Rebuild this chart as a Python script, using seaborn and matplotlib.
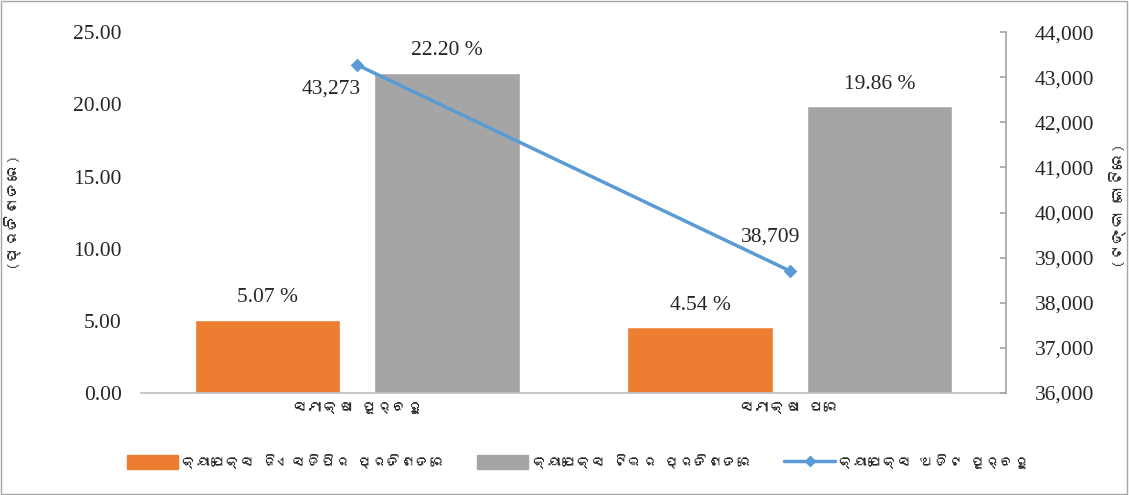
import numpy as np
import pandas as pd
import matplotlib
matplotlib.use("Agg")
import matplotlib.pyplot as plt
import seaborn as sns
from matplotlib import font_manager, ft2font
from matplotlib.lines import Line2D
from matplotlib.patches import Patch, Rectangle

# ---------------- data ----------------
categories = ["ସମୀକ୍ଷା ପୂର୍ବରୁ", "ସମୀକ୍ଷା ପରେ"]
gsdp_pct = [5.07, 4.54]          # କ୍ୟାପେକ୍ସ ଜିଏସଡିପିର ପ୍ରତିଶତରେ
te_pct = [22.20, 19.86]          # କ୍ୟାପେକ୍ସ ଟିଇର ପ୍ରତିଶତରେ
capex_crore = [43273, 38709]     # କ୍ୟାପେକ୍ସ ଅଡିଟ ପୂର୍ବରୁ

series_names = ["କ୍ୟାପେକ୍ସ ଜିଏସଡିପିର ପ୍ରତିଶତରେ", "କ୍ୟାପେକ୍ସ ଟିଇର ପ୍ରତିଶତରେ",
                "କ୍ୟାପେକ୍ସ ଅଡିଟ ପୂର୍ବରୁ"]
left_label = "(ପ୍ରତିଶତରେ)"
right_label = "(ଟଙ୍କା କୋଟିରେ)"

ORANGE = "#ED7D31"
GREY = "#A5A5A5"
BLUE = "#5B9BD5"

# fuente con glifos oriya si existe
odia_font = "DejaVu Sans"
for f in font_manager.fontManager.ttflist:
    try:
        if 0x0B15 in ft2font.FT2Font(f.fname).get_charmap():
            odia_font = f.name
            break
    except Exception:
        pass

sns.set_theme(style="white")
plt.rcParams["font.family"] = [odia_font, "DejaVu Sans"]
serif = "Liberation Serif"
NUM_FS = 15.5

df = pd.DataFrame({
    "cat": categories * 2,
    "series": [series_names[0]] * 2 + [series_names[1]] * 2,
    "val": gsdp_pct + te_pct,
})

fig = plt.figure(figsize=(11.29, 4.95), dpi=100)
ax = fig.add_axes([0.125, 0.206, 0.766, 0.729])

sns.barplot(data=df, x="cat", y="val", hue="series", order=categories,
            hue_order=series_names[:2], palette=[ORANGE, GREY],
            width=0.83, gap=0.19, saturation=1, ax=ax, legend=False)

for cont in ax.containers:
    labels = [f"{v:.2f} %" for v in cont.datavalues]
    ax.bar_label(cont, labels=labels, padding=9, fontsize=NUM_FS, family=serif)

ax.set_ylim(0, 25)
ax.set_yticks(np.arange(0, 25.01, 5))
ax.set_yticklabels([f"{v:.2f}" for v in np.arange(0, 25.01, 5)],
                   family=serif, fontsize=NUM_FS)
ax.set_xlabel("")
ax.set_ylabel(left_label, fontsize=12)
ax.yaxis.set_label_coords(-0.141, 0.51)
ax.tick_params(axis="x", labelsize=11, length=0, pad=6)
ax.tick_params(axis="y", length=0, pad=14)
for s in ["left", "top", "right"]:
    ax.spines[s].set_visible(False)
ax.spines["bottom"].set_color("#BFBFBF")

ax2 = ax.twinx()
sns.pointplot(x=categories, y=capex_crore, order=categories, color=BLUE,
              markers="D", markersize=5, linewidth=2.5, ax=ax2)
ax2.set_ylim(36000, 44000)
ax2.set_yticks(np.arange(36000, 44001, 1000))
ax2.set_yticklabels([f"{v:,}" for v in range(36000, 44001, 1000)],
                    family=serif, fontsize=NUM_FS)
ax2.tick_params(axis="y", direction="in", length=4, color="#A6A6A6", pad=21,
                right=True)
ax2.set_ylabel(right_label, fontsize=12, rotation=90)
ax2.yaxis.set_label_coords(1.119, 0.52)
for s in ["left", "top", "bottom"]:
    ax2.spines[s].set_visible(False)
ax2.spines["right"].set_color("#A6A6A6")
ax2.set_xlim(-0.5, 1.5)
ax.set_xlim(-0.5, 1.5)

# etiquetas de la linea
ax2.annotate(f"{capex_crore[0]:,}", (0, capex_crore[0]), xytext=(-19, -17),
             textcoords="offset points", ha="center", va="center",
             fontsize=NUM_FS, family=serif)
ax2.annotate(f"{capex_crore[1]:,}", (1, capex_crore[1]), xytext=(-14, 24.5),
             textcoords="offset points", ha="center", va="center",
             fontsize=NUM_FS, family=serif)

handles = [Patch(color=ORANGE), Patch(color=GREY),
           Line2D([], [], color=BLUE, lw=2.5, marker="D", markersize=5)]
fig.legend(handles, series_names, loc="center", bbox_to_anchor=(0.512, 0.067),
           ncol=3, frameon=False, fontsize=10.5, handlelength=3.5,
           handleheight=1.1, columnspacing=2.2, handletextpad=0.3)

fig.patches.append(Rectangle((0.001, 0.002), 0.997, 0.996, transform=fig.transFigure,
                             fill=False, edgecolor="#A6A6A6", lw=1))

fig.savefig("out.png", dpi=100)
